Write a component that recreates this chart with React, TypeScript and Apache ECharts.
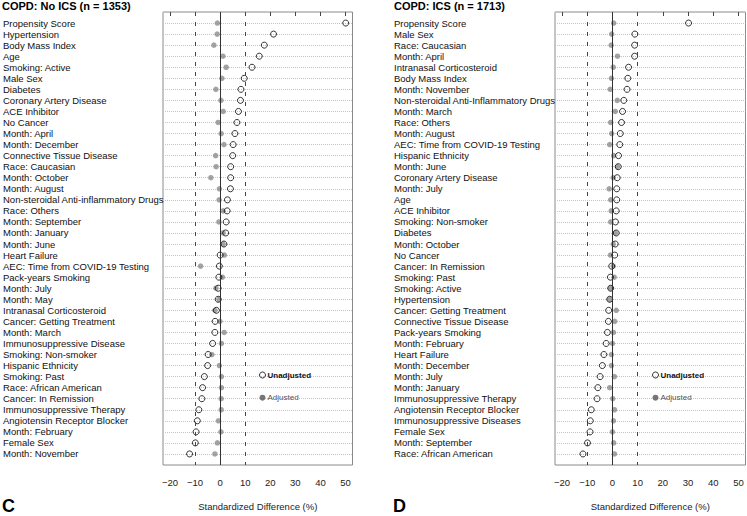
import React, { useEffect, useRef } from "react";
import * as echarts from "echarts";

const leftLabels = [
  "Propensity Score", "Hypertension", "Body Mass Index", "Age", "Smoking: Active",
  "Male Sex", "Diabetes", "Coronary Artery Disease", "ACE Inhibitor", "No Cancer",
  "Month: April", "Month: December", "Connective Tissue Disease", "Race: Caucasian", "Month: October",
  "Month: August", "Non-steroidal Anti-inflammatory Drugs", "Race: Others", "Month: September", "Month: January",
  "Month: June", "Heart Failure", "AEC: Time from COVID-19 Testing", "Pack-years Smoking", "Month: July",
  "Month: May", "Intranasal Corticosteroid", "Cancer: Getting Treatment", "Month: March", "Immunosuppressive Disease",
  "Smoking: Non-smoker", "Hispanic Ethnicity", "Smoking: Past", "Race: African American", "Cancer: In Remission",
  "Immunosuppressive Therapy", "Angiotensin Receptor Blocker", "Month: February", "Female Sex", "Month: November",
];
const leftUnadjusted = [
  50.1, 21.3, 17.6, 15.6, 12.7, 9.6, 8.3, 8.1, 7.3, 6.7,
  5.9, 5.2, 5.0, 4.2, 4.2, 4.1, 2.9, 2.8, 2.4, 2.2,
  1.5, 0.0, -0.3, -0.5, -0.8, -0.8, -1.5, -2.0, -2.1, -3.0,
  -4.8, -5.0, -6.3, -7.0, -7.3, -8.5, -9.1, -9.6, -9.9, -12.2,
];
const leftAdjusted = [
  -1.1, -1.2, -2.5, 1.1, 2.4, 0.7, -1.7, 0.3, 1.2, -0.8,
  0.4, 1.5, -1.8, -1.6, -3.7, -0.3, -0.4, 1.2, -0.5, 1.2,
  1.2, 1.7, -7.8, 0.9, -1.7, -0.5, -2.1, -0.1, 1.6, 0.5,
  -3.3, -0.3, 0.5, 0.5, 0.4, 0.4, -0.7, 0.3, -1.1, -2.1,
];

const rightLabels = [
  "Propensity Score", "Male Sex", "Race: Caucasian", "Month: April", "Intranasal Corticosteroid",
  "Body Mass Index", "Month: November", "Non-steroidal Anti-Inflammatory Drugs", "Month: March", "Race: Others",
  "Month: August", "AEC: Time from COVID-19 Testing", "Hispanic Ethnicity", "Month: June", "Coronary Artery Disease",
  "Month: July", "Age", "ACE Inhibitor", "Smoking: Non-smoker", "Diabetes",
  "Month: October", "No Cancer", "Cancer: In Remission", "Smoking: Past", "Smoking: Active",
  "Hypertension", "Cancer: Getting Treatment", "Connective Tissue Disease", "Pack-years Smoking", "Month: February",
  "Heart Failure", "Month: December", "Month: July", "Month: January", "Immunosuppressive Therapy",
  "Angiotensin Receptor Blocker", "Immunosuppressive Diseases", "Female Sex", "Month: September", "Race: African American",
];
const rightUnadjusted = [
  30.2, 8.9, 8.8, 8.8, 6.4, 6.1, 5.8, 4.5, 4.0, 3.6,
  3.1, 2.9, 2.4, 2.3, 1.9, 1.7, 1.7, 1.5, 1.2, 1.5,
  1.1, 0.9, -0.3, -0.8, -0.7, -1.1, -1.5, -1.6, -2.0, -2.5,
  -3.4, -4.0, -4.9, -5.8, -6.1, -8.4, -8.8, -8.9, -9.9, -11.7,
];
const rightAdjusted = [
  0.5, -0.3, -0.5, 2.0, 0.3, -0.4, -0.9, 1.9, 1.1, -0.7,
  -0.3, -1.1, 0.5, 2.0, 0.3, -1.3, -0.7, -0.5, -0.7, 1.2,
  0.3, -0.8, 0.3, 0.7, -0.7, -1.1, 1.5, 0.9, 0.4, 0.0,
  -0.4, -0.4, 0.8, -1.1, 0.1, 0.8, 0.4, 0.0, 0.5, 0.8,
];

const xTicks = [-20, -10, 0, 10, 20, 30, 40, 50];
const refLines = [-10, 0, 10];
const titles = ["COPD: No ICS (n = 1353)", "COPD: ICS (n = 1713)"];
const panelLetters = ["C", "D"];
const xAxisTitle = "Standardized Difference (%)";

const FONT = "'Liberation Sans', Arial, Helvetica, sans-serif";

export default function App() {
  const ref = useRef<HTMLDivElement>(null);

  useEffect(() => {
    if (!ref.current) return;
    const chart = echarts.init(ref.current, null, { renderer: "svg" });

    const panels = [
      { labels: leftLabels, unadj: leftUnadjusted, adj: leftAdjusted, gridLeft: 162, labelX: 2, legendLeft: 259 },
      { labels: rightLabels, unadj: rightUnadjusted, adj: rightAdjusted, gridLeft: 555, labelX: 394, legendLeft: 652 },
    ];

    const grids = panels.map((p) => ({
      left: p.gridLeft,
      top: 12,
      width: 190.5,
      height: 457,
      show: true,
      borderColor: "#8a8a8a",
      borderWidth: 1,
      backgroundColor: "transparent",
    }));

    const xAxes = panels.map((_, i) => ({
      type: "value",
      gridIndex: i,
      min: -22.8,
      max: 52.8,
      position: "bottom",
      offset: 3,
      axisLine: { show: false },
      axisTick: {
        show: true,
        length: 4,
        customValues: xTicks,
        lineStyle: { color: "#444", width: 1 },
      },
      axisLabel: {
        customValues: xTicks,
        formatter: (v: number) => String(v).replace("-", "\u2212"),
        margin: 9,
        fontSize: 9.5,
        color: "#222",
        fontFamily: FONT,
      },
      splitLine: { show: false },
      name: xAxisTitle,
      nameLocation: "middle",
      nameGap: 33,
      nameTextStyle: { fontSize: 9.5, color: "#222", fontFamily: FONT },
    }));

    const yAxes = panels.map((p, i) => ({
      type: "value",
      gridIndex: i,
      inverse: true,
      min: 0,
      max: 41,
      interval: 1,
      axisLine: { show: false },
      axisTick: { show: false },
      axisLabel: {
        formatter: (v: number) => (v >= 1 && v <= p.labels.length ? p.labels[v - 1] : ""),
        align: "left",
        margin: p.gridLeft - p.labelX,
        fontSize: 9.5,
        color: "#111",
        fontFamily: FONT,
      },
      splitLine: { show: true, lineStyle: { type: "dotted", color: "#c4c4c4", width: 1 } },
    }));

    const series: any[] = [];
    panels.forEach((p, i) => {
      series.push({
        name: "Adjusted",
        type: "scatter",
        xAxisIndex: i,
        yAxisIndex: i,
        symbol: "circle",
        symbolSize: 5.5,
        itemStyle: { color: "#8c8c8c" },
        data: p.adj.map((v, k) => [v, k + 1]),
        markLine: {
          silent: true,
          symbol: "none",
          label: { show: false },
          data: refLines.map((v) => ({
            xAxis: v,
            lineStyle:
              v === 0
                ? { type: "solid", color: "#333", width: 1 }
                : { type: [4, 6], color: "#444", width: 1 },
          })),
        },
        z: 2,
      });
      series.push({
        name: "Unadjusted",
        type: "scatter",
        xAxisIndex: i,
        yAxisIndex: i,
        symbol: "circle",
        symbolSize: 6,
        itemStyle: { color: "rgba(255,255,255,0)", borderColor: "#000", borderWidth: 1 },
        data: p.unadj.map((v, k) => [v, k + 1]),
        z: 3,
      });
    });

    const legends = panels.map((p) => ({
      left: p.legendLeft,
      top: 369,
      orient: "vertical",
      padding: 0,
      itemWidth: 6,
      itemHeight: 6,
      itemGap: 10.7,
      selectedMode: false,
      textStyle: { fontSize: 8, lineHeight: 12, fontFamily: FONT, padding: [0, 0, 0, -3] },
      data: [
        {
          name: "Unadjusted",
          itemStyle: { color: "rgba(255,255,255,0)", borderColor: "#000", borderWidth: 1 },
          textStyle: { fontWeight: "bold", color: "#111" },
        },
        { name: "Adjusted", itemStyle: { color: "#555", borderWidth: 0 }, textStyle: { color: "#555" } },
      ],
    }));

    const graphics: any[] = [];
    panels.forEach((p, i) => {
      graphics.push({
        type: "text",
        left: p.labelX,
        top: 0,
        style: { text: titles[i], font: `bold 11px ${FONT}`, fill: "#000" },
      });
      graphics.push({
        type: "text",
        left: p.labelX + (i === 0 ? 0 : -1),
        top: 497,
        style: { text: panelLetters[i], font: `bold 18px ${FONT}`, fill: "#000" },
      });
    });

    chart.setOption({
      animation: false,
      backgroundColor: "#fff",
      grid: grids,
      xAxis: xAxes,
      yAxis: yAxes,
      legend: legends,
      series,
      graphic: graphics,
    });

    return () => chart.dispose();
  }, []);

  return (
    <div
      ref={ref}
      style={{ position: "fixed", left: 0, top: 0, width: 747, height: 516 }}
    />
  );
}
